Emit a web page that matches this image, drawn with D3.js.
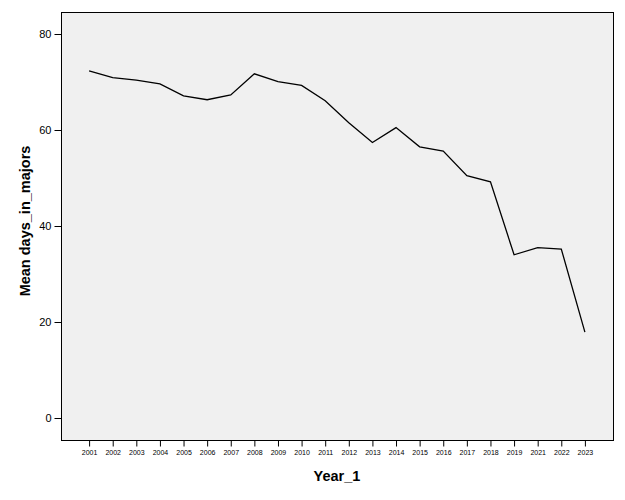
<!DOCTYPE html>
<html><head><meta charset="utf-8">
<script src="https://cdn.jsdelivr.net/npm/d3@7"></script>
<style>body{margin:0;background:#fff}svg{display:block}</style>
</head><body>
<svg id="c" width="625" height="500"></svg>
<script>
const years = ["2001","2002","2003","2004","2005","2006","2007","2008","2009","2010","2011","2012","2013","2014","2015","2016","2017","2018","2019","2021","2022","2023"];
const meanDays = [72.3,70.9,70.4,69.6,67.1,66.3,67.3,71.7,70.1,69.3,66.1,61.5,57.4,60.5,56.5,55.6,50.5,49.2,34.0,35.5,35.2,17.9];
const yTicks = [0,20,40,60,80];

const svg = d3.select("#c");
const L=61, R=613, T=12, B=440;
const x = d3.scalePoint().domain(years).range([L,R]).padding(1.19);
const y = d3.scaleLinear().domain([0,80]).range([418,34]);

svg.append("rect").attr("x",L+0.5).attr("y",T+0.5).attr("width",R-L).attr("height",B-T)
  .attr("fill","#f0f0f0").attr("stroke","#000").attr("stroke-width",1);

const yAxis = svg.append("g").attr("transform",`translate(${L+0.5},0)`)
  .call(d3.axisLeft(y).tickValues(yTicks).tickSize(7).tickPadding(3));
yAxis.select(".domain").remove();
yAxis.selectAll("text").attr("font-family","Liberation Sans, Arial, sans-serif").attr("font-size",11).attr("fill","#000");

const xAxis = svg.append("g").attr("transform",`translate(0,${B+0.5})`)
  .call(d3.axisBottom(x).tickSize(6).tickPadding(4));
xAxis.select(".domain").remove();
xAxis.selectAll("text").attr("font-family","Liberation Sans, Arial, sans-serif").attr("font-size",7).attr("fill","#000");

svg.append("path").datum(meanDays)
  .attr("fill","none").attr("stroke","#000").attr("stroke-width",1.3)
  .attr("d", d3.line().x((d,i)=>x(years[i])).y(d=>y(d)));

svg.append("text").attr("x",337).attr("y",481).attr("text-anchor","middle")
  .attr("font-family","Liberation Sans, Arial, sans-serif").attr("font-weight","bold").attr("font-size",14.5)
  .text("Year_1");
svg.append("text").attr("transform","translate(30,221) rotate(-90)").attr("text-anchor","middle")
  .attr("font-family","Liberation Sans, Arial, sans-serif").attr("font-weight","bold").attr("font-size",14.5)
  .text("Mean days_in_majors");
</script>
</body></html>
